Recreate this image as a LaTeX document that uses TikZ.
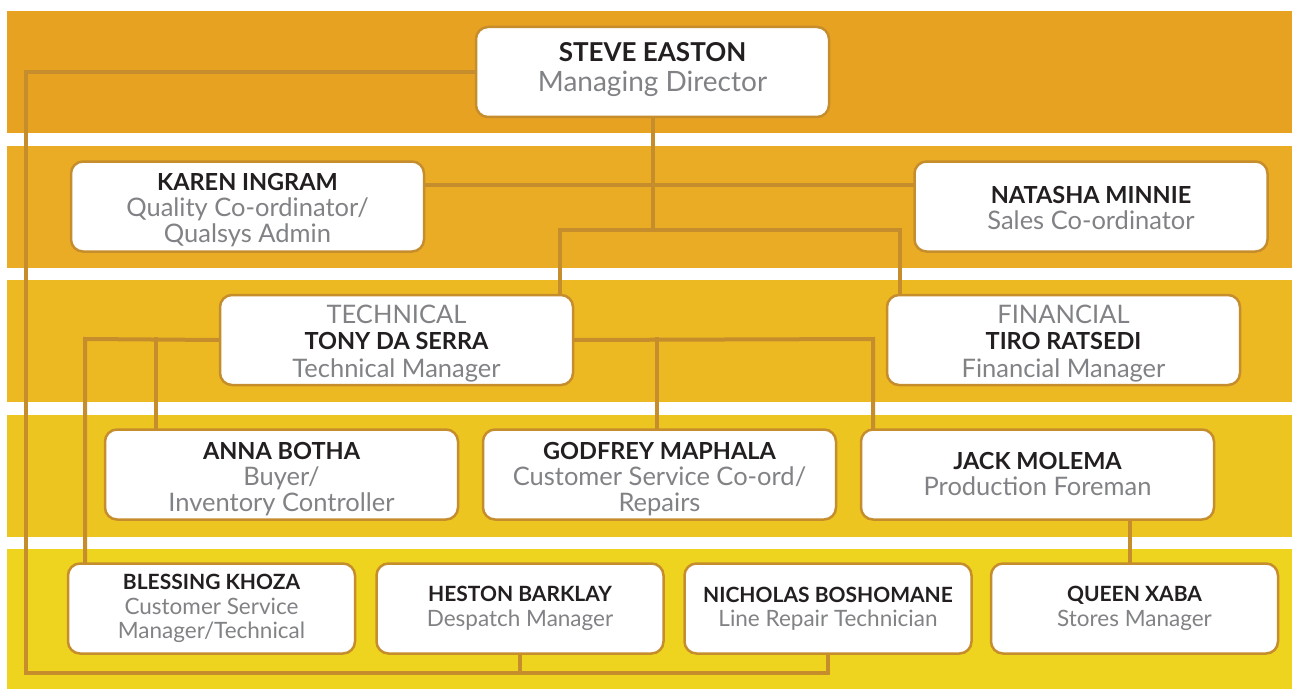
\documentclass[tikz,border=0pt]{standalone}
\usepackage{fontspec}
\setmainfont{Lato}
\definecolor{bandA}{HTML}{E8A222}
\definecolor{bandB}{HTML}{EBAC25}
\definecolor{bandC}{HTML}{ECB922}
\definecolor{bandD}{HTML}{EDC520}
\definecolor{bandE}{HTML}{EED31F}
\definecolor{ochre}{HTML}{C68D2D}
\definecolor{nametxt}{HTML}{231F20}
\definecolor{titletxt}{HTML}{808285}
\pgfdeclarelayer{bandlayer}
\pgfdeclarelayer{connlayer}
\pgfsetlayers{bandlayer,connlayer,main}
\newcommand{\nmsize}{\fontsize{23.5}{26}\selectfont}
\newcommand{\tlsize}{\fontsize{25.5}{26}\selectfont}
\newcommand{\nm}[1]{{\nmsize\color{nametxt}\bfseries #1}}
\newcommand{\ttl}[1]{{\tlsize\color{titletxt}#1}}
\newcommand{\lowr}[1]{\rule{0pt}{#1}}
\tikzset{
  box/.style={draw=ochre, line width=2.5pt, fill=white, rounded corners=12pt,
    minimum width=353pt, minimum height=90pt, align=center, inner sep=0pt,
    font=\fontsize{23.5}{26}\selectfont},
  topbox/.style={box, font=\fontsize{26}{30}\selectfont,
    execute at begin node={\renewcommand{\nmsize}{\fontsize{26}{30}\selectfont}\renewcommand{\tlsize}{\fontsize{28}{30}\selectfont}}},
  smallbox/.style={box, minimum width=287pt, font=\fontsize{21}{24.5}\selectfont,
    execute at begin node={\renewcommand{\nmsize}{\fontsize{21}{24.5}\selectfont}\renewcommand{\tlsize}{\fontsize{22.5}{24.5}\selectfont}}},
  conn/.style={draw=ochre, line width=4pt, line cap=rect},
}
\begin{document}
\begin{tikzpicture}[x=1pt,y=-1pt]
\useasboundingbox (0,0) rectangle (1292,690);
% bands
\begin{pgfonlayer}{bandlayer}
\fill[white] (0,0) rectangle (1292,690);
\fill[bandA] (7,11) rectangle (1292,133);
\fill[bandB] (7,146) rectangle (1292,268);
\fill[bandC] (7,280) rectangle (1292,402);
\fill[bandD] (7,415) rectangle (1292,537);
\fill[bandE] (7,549) rectangle (1292,689);
\end{pgfonlayer}
% coordinates
\coordinate (busL) at (26,673);
\coordinate (kn) at (0,185);
\coordinate (b2L) at (560,230);
\coordinate (b2R) at (900,230);
\coordinate (tL) at (85,339);
\coordinate (tA) at (156,339);
\coordinate (tG) at (657,339);
\coordinate (tR) at (873,339);
\coordinate (jq) at (1130,0);
% nodes
\path
  (652.5,72) node[topbox] (s) {\nm{STEVE EASTON}\\\ttl{Managing Director}\\[-20pt]\mbox{}}
  (247.5,206.5) node[box] (k) {\lowr{25pt}\nm{KAREN INGRAM}\\\ttl{Quality Co-ordinator/}\\\ttl{Qualsys Admin}}
  (1091,206.5) node[box] (n) {\lowr{21pt}\nm{NATASHA MINNIE}\\\ttl{Sales Co-ordinator}}
  (396.5,340) node[box] (t) {\lowr{26pt}\ttl{TECHNICAL}\\\nm{TONY DA SERRA}\\[2pt]\ttl{Technical Manager}}
  (1063.5,340) node[box] (r) {\lowr{26pt}\ttl{FINANCIAL}\\\nm{TIRO RATSEDI}\\[2pt]\ttl{Financial Manager}}
  (281.5,474.5) node[box] (a) {\lowr{26pt}\nm{ANNA BOTHA}\\\ttl{Buyer/}\\\ttl{Inventory Controller}}
  (659.5,474.5) node[box] (g) {\lowr{26pt}\nm{GODFREY MAPHALA}\\\ttl{Customer Service Co-ord/}\\\ttl{Repairs}}
  (1037.5,474.5) node[box] (j) {\nm{JACK MOLEMA}\\\ttl{Production Foreman}}
  (211.5,608.5) node[smallbox] (b) {\nm{BLESSING KHOZA}\\\ttl{Customer Service}\\\ttl{Manager/Technical}}
  (520,608.5) node[smallbox] (h) {\nm{HESTON BARKLAY}\\\ttl{Despatch Manager}}
  (828,608.5) node[smallbox] (nb) {\nm{NICHOLAS BOSHOMANE}\\\ttl{Line Repair Technician}}
  (1134.5,608.5) node[smallbox] (q) {\nm{QUEEN XABA}\\\ttl{Stores Manager}};
% connectors, under the boxes
\begin{pgfonlayer}{connlayer}
\draw[conn] (s.west) -| (busL) -| (nb.south);
\draw[conn] (h.south) -- (h.south |- busL);
\draw[conn] (s.south) -- (s.south |- b2L);
\draw[conn] (k.east |- kn) -- (n.west |- kn);
\draw[conn] (b2L |- t.north) -- (b2L) -- (b2R) -- (b2R |- r.north);
\draw[conn] (t.west) -- (tL) -- (tL |- b.north);
\draw[conn] (tA) -- (tA |- a.north);
\draw[conn] (t.east) -- (tR) -- (tR |- j.north);
\draw[conn] (tG) -- (tG |- g.north);
\draw[conn] (j.south -| jq) -- (q.north -| jq);
\end{pgfonlayer}
\end{tikzpicture}
\end{document}
